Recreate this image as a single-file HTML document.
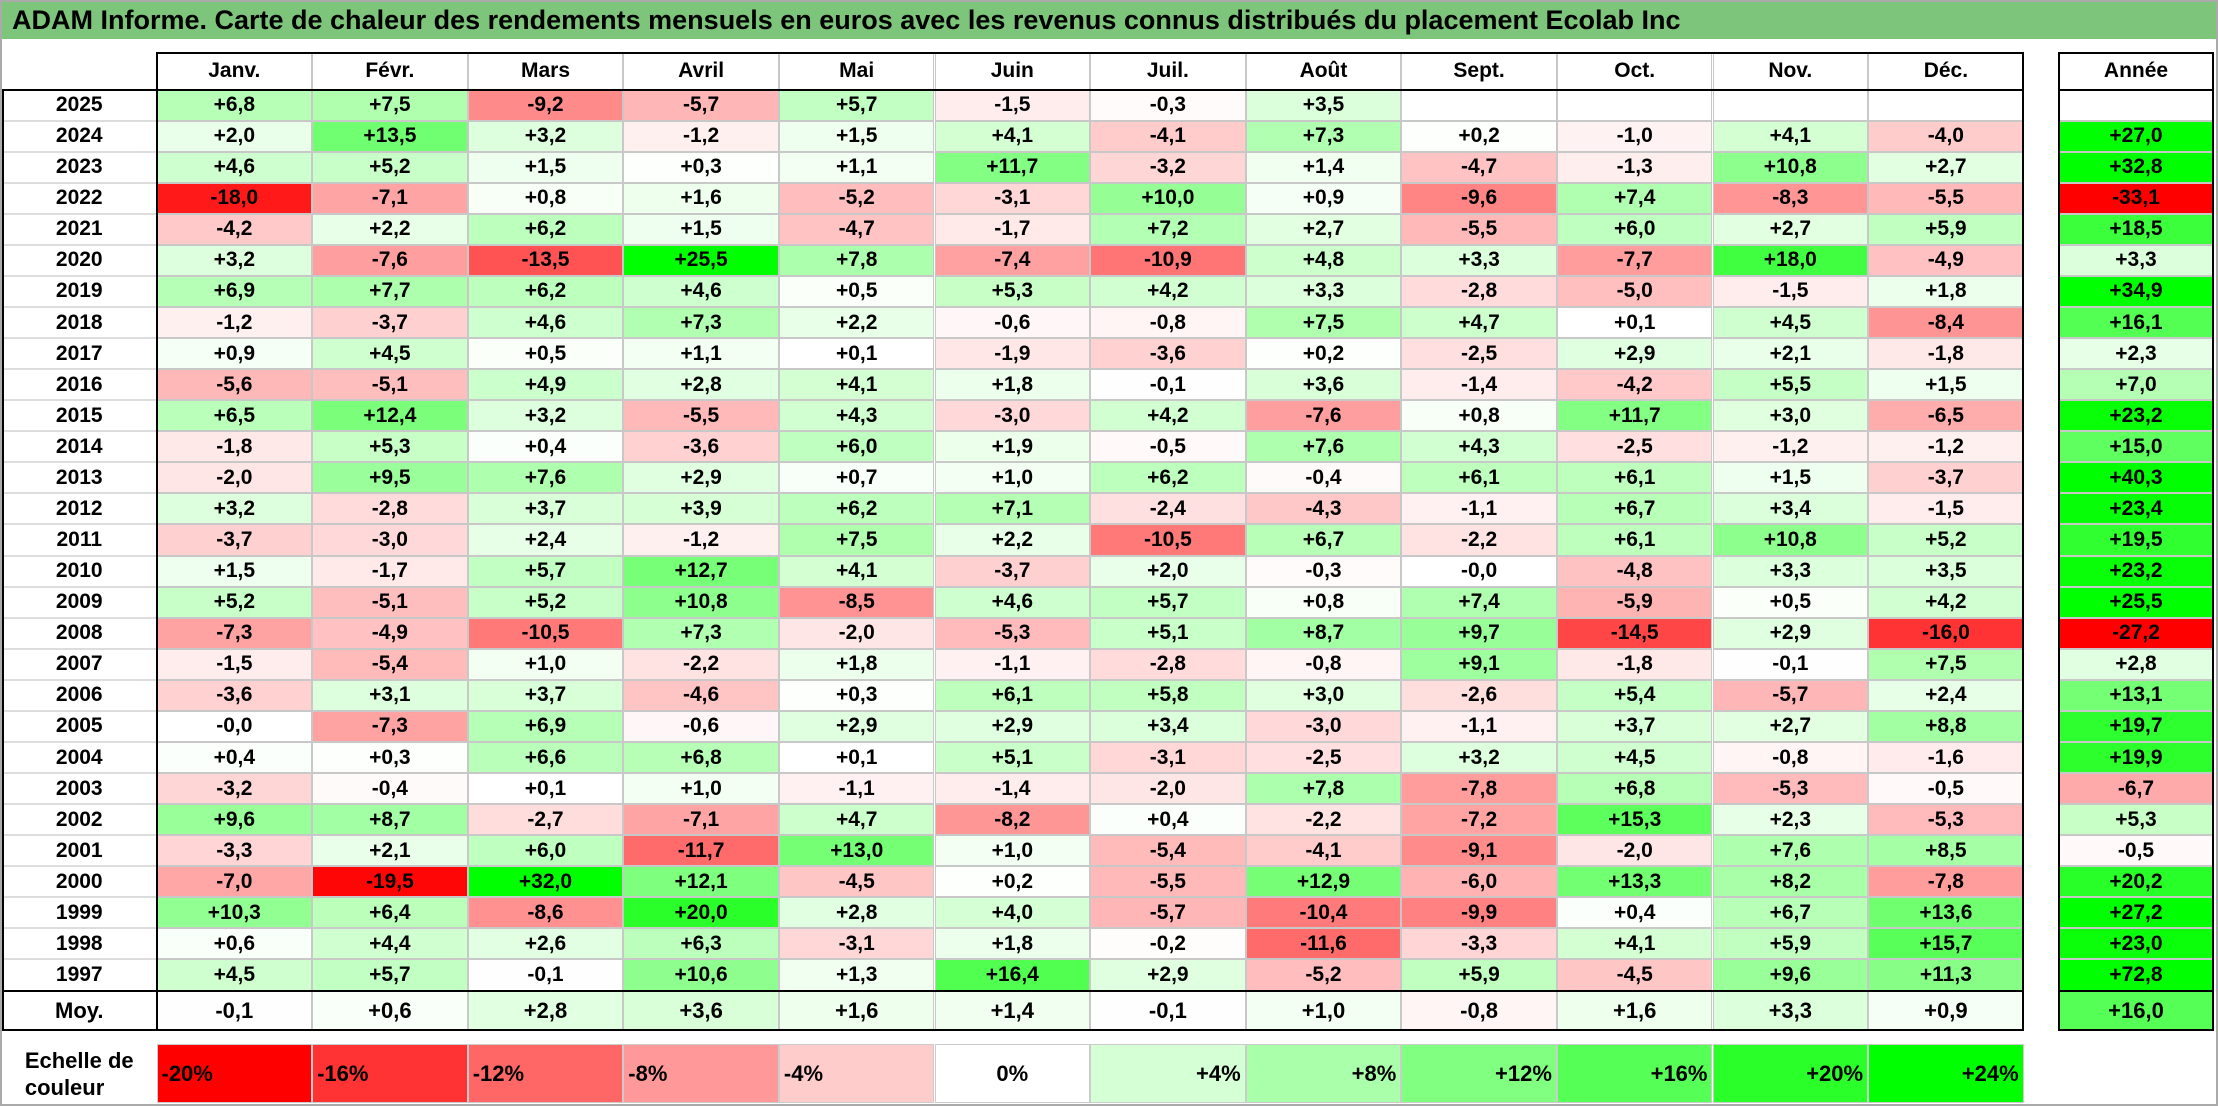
<!DOCTYPE html>
<html><head><meta charset="utf-8">
<style>
body{margin:0;background:#fff;}
#root{position:relative;width:2218px;height:1106px;overflow:hidden;font-family:"Liberation Sans",Arial,sans-serif;font-weight:bold;color:#000;}
.c{position:absolute;box-sizing:border-box;display:flex;align-items:center;justify-content:center;font-size:21px;}
.b{position:absolute;box-sizing:border-box;}
</style></head>
<body>
<div id="root">
  <div class="b" style="left:0;top:0;width:2218px;height:1106px;border:2px solid #aaa;"></div>
  <div class="c" style="left:2px;top:2px;width:2214px;height:37px;background:#7dc57a;justify-content:flex-start;padding-left:10px;font-size:27px;">ADAM Informe. Carte de chaleur des rendements mensuels en euros avec les revenus connus distribués du placement Ecolab Inc</div>
  <div id="grid"></div>
</div>
<script>
const months = ["Janv.","Févr.","Mars","Avril","Mai","Juin","Juil.","Août","Sept.","Oct.","Nov.","Déc."];
const years = [2025,2024,2023,2022,2021,2020,2019,2018,2017,2016,2015,2014,2013,2012,2011,2010,2009,2008,2007,2006,2005,2004,2003,2002,2001,2000,1999,1998,1997];
const r2025 = [6.8,7.5,-9.2,-5.7,5.7,-1.5,-0.3,3.5,null,null,null,null];
const r2024 = [2.0,13.5,3.2,-1.2,1.5,4.1,-4.1,7.3,0.2,-1.0,4.1,-4.0];
const r2023 = [4.6,5.2,1.5,0.3,1.1,11.7,-3.2,1.4,-4.7,-1.3,10.8,2.7];
const r2022 = [-18.0,-7.1,0.8,1.6,-5.2,-3.1,10.0,0.9,-9.6,7.4,-8.3,-5.5];
const r2021 = [-4.2,2.2,6.2,1.5,-4.7,-1.7,7.2,2.7,-5.5,6.0,2.7,5.9];
const r2020 = [3.2,-7.6,-13.5,25.5,7.8,-7.4,-10.9,4.8,3.3,-7.7,18.0,-4.9];
const r2019 = [6.9,7.7,6.2,4.6,0.5,5.3,4.2,3.3,-2.8,-5.0,-1.5,1.8];
const r2018 = [-1.2,-3.7,4.6,7.3,2.2,-0.6,-0.8,7.5,4.7,0.1,4.5,-8.4];
const r2017 = [0.9,4.5,0.5,1.1,0.1,-1.9,-3.6,0.2,-2.5,2.9,2.1,-1.8];
const r2016 = [-5.6,-5.1,4.9,2.8,4.1,1.8,-0.1,3.6,-1.4,-4.2,5.5,1.5];
const r2015 = [6.5,12.4,3.2,-5.5,4.3,-3.0,4.2,-7.6,0.8,11.7,3.0,-6.5];
const r2014 = [-1.8,5.3,0.4,-3.6,6.0,1.9,-0.5,7.6,4.3,-2.5,-1.2,-1.2];
const r2013 = [-2.0,9.5,7.6,2.9,0.7,1.0,6.2,-0.4,6.1,6.1,1.5,-3.7];
const r2012 = [3.2,-2.8,3.7,3.9,6.2,7.1,-2.4,-4.3,-1.1,6.7,3.4,-1.5];
const r2011 = [-3.7,-3.0,2.4,-1.2,7.5,2.2,-10.5,6.7,-2.2,6.1,10.8,5.2];
const r2010 = [1.5,-1.7,5.7,12.7,4.1,-3.7,2.0,-0.3,-0.0,-4.8,3.3,3.5];
const r2009 = [5.2,-5.1,5.2,10.8,-8.5,4.6,5.7,0.8,7.4,-5.9,0.5,4.2];
const r2008 = [-7.3,-4.9,-10.5,7.3,-2.0,-5.3,5.1,8.7,9.7,-14.5,2.9,-16.0];
const r2007 = [-1.5,-5.4,1.0,-2.2,1.8,-1.1,-2.8,-0.8,9.1,-1.8,-0.1,7.5];
const r2006 = [-3.6,3.1,3.7,-4.6,0.3,6.1,5.8,3.0,-2.6,5.4,-5.7,2.4];
const r2005 = [-0.0,-7.3,6.9,-0.6,2.9,2.9,3.4,-3.0,-1.1,3.7,2.7,8.8];
const r2004 = [0.4,0.3,6.6,6.8,0.1,5.1,-3.1,-2.5,3.2,4.5,-0.8,-1.6];
const r2003 = [-3.2,-0.4,0.1,1.0,-1.1,-1.4,-2.0,7.8,-7.8,6.8,-5.3,-0.5];
const r2002 = [9.6,8.7,-2.7,-7.1,4.7,-8.2,0.4,-2.2,-7.2,15.3,2.3,-5.3];
const r2001 = [-3.3,2.1,6.0,-11.7,13.0,1.0,-5.4,-4.1,-9.1,-2.0,7.6,8.5];
const r2000 = [-7.0,-19.5,32.0,12.1,-4.5,0.2,-5.5,12.9,-6.0,13.3,8.2,-7.8];
const r1999 = [10.3,6.4,-8.6,20.0,2.8,4.0,-5.7,-10.4,-9.9,0.4,6.7,13.6];
const r1998 = [0.6,4.4,2.6,6.3,-3.1,1.8,-0.2,-11.6,-3.3,4.1,5.9,15.7];
const r1997 = [4.5,5.7,-0.1,10.6,1.3,16.4,2.9,-5.2,5.9,-4.5,9.6,11.3];
const values = [r2025,r2024,r2023,r2022,r2021,r2020,r2019,r2018,r2017,r2016,r2015,r2014,r2013,r2012,r2011,r2010,r2009,r2008,r2007,r2006,r2005,r2004,r2003,r2002,r2001,r2000,r1999,r1998,r1997];
const annual = [null,27.0,32.8,-33.1,18.5,3.3,34.9,16.1,2.3,7.0,23.2,15.0,40.3,23.4,19.5,23.2,25.5,-27.2,2.8,13.1,19.7,19.9,-6.7,5.3,-0.5,20.2,27.2,23.0,72.8];
const averages = [-0.1,0.6,2.8,3.6,1.6,1.4,-0.1,1.0,-0.8,1.6,3.3,0.9];
const averageAnnual = 16.0;
const legendTicks = [-20,-16,-12,-8,-4,0,4,8,12,16,20,24];

const root = document.getElementById('grid');
const X0 = 156.5, CW = 155.6, HT = 52, HB = 89.5, RH = 31.07, AX = 2058, AW = 156;
const colX = i => X0 + i*CW;
const rowY = i => HB + i*RH;
function color(v){
  if (v === null) return '#fff';
  if (v < 0){ const t = Math.min(1, -v/20); const g = Math.round(255*(1-t)); return `rgb(255,${g},${g})`; }
  const t = Math.min(1, v/24); const rb = Math.round(255*(1-t)); return `rgb(${rb},255,${rb})`;
}
function fmt(v){
  const neg = v < 0 || Object.is(v,-0);
  return (neg ? '-' : '+') + Math.abs(v).toFixed(1).replace('.', ',');
}
function cell(x,y,w,h,txt,bg,name,extra){
  const d = document.createElement('div');
  d.className = 'c';
  
  
  d.style.cssText = `left:${x}px;top:${y}px;width:${w}px;height:${h}px;background:${bg};border:1px solid #c8c8c8;` + (extra||'');
  d.textContent = txt;
  root.appendChild(d);
  return d;
}
function box(x,y,w,h,css,name){
  const d = document.createElement('div');
  d.className = 'b';
  
  
  d.style.cssText = `left:${x}px;top:${y}px;width:${w}px;height:${h}px;${css}`;
  root.appendChild(d);
}
months.forEach((m,i)=>{ cell(colX(i),HT,CW,HB-HT,m,'#fff','month-header'); });
cell(AX,HT,AW,HB-HT,'Année','#fff','annual-header');
years.forEach((y,r)=>{
  cell(2,rowY(r),X0-2,RH,String(y),'#fff','year-label','border-color:#ddd;');
  values[r].forEach((v,i)=>{
    cell(colX(i),rowY(r),CW,RH,v===null?'':fmt(v),color(v),'heat-cell');
  });
  const a = annual[r];
  cell(AX,rowY(r),AW,RH,a===null?'':fmt(a),color(a),'annual-cell');
});
const MY = rowY(years.length), MH = 1031 - MY;
cell(2,MY,X0-2,MH,'Moy.','#fff','average-label','font-size:22px;');
averages.forEach((v,i)=>{ cell(colX(i),MY,CW,MH,fmt(v),color(v),'average-cell','font-size:22px;'); });
cell(AX,MY,AW,MH,fmt(averageAnnual),color(averageAnnual),'annual-average-cell','font-size:22px;');
box(2,HB-1,colX(12)-2,MY+MH-HB+1,'border:2px solid #000;','table-border');
box(X0-1,HT,colX(12)-X0+1,MY+MH-HT,'border:2px solid #000;border-bottom:none;','month-border');
box(2,MY-1,colX(12)-2,MH+1,'border-top:2px solid #000;','average-separator');
box(AX,HT,AW,MY+MH-HT,'border:2px solid #000;','annual-border');
box(AX,HB-1,AW,1,'border-top:2px solid #000;','annual-header-line');
box(AX,MY-1,AW,1,'border-top:2px solid #000;','annual-average-line');
const LY = 1044, LH = 59;
const lab = cell(2,LY,X0-2,LH,'','#fff','legend-title','border:none;flex-direction:column;line-height:27px;font-size:22px;');
lab.innerHTML = 'Echelle de<br>couleur';
legendTicks.forEach((t,i)=>{
  const txt = (t>0?'+':'') + t + '%';
  const j = t<0 ? 'flex-start' : (t===0 ? 'center' : 'flex-end');
  cell(colX(i),LY,CW,LH,txt,color(t),'legend-swatch',`justify-content:${j};padding:0 4px;font-size:22px;border-color:#ccc;`);
});
</script>
</body></html>
